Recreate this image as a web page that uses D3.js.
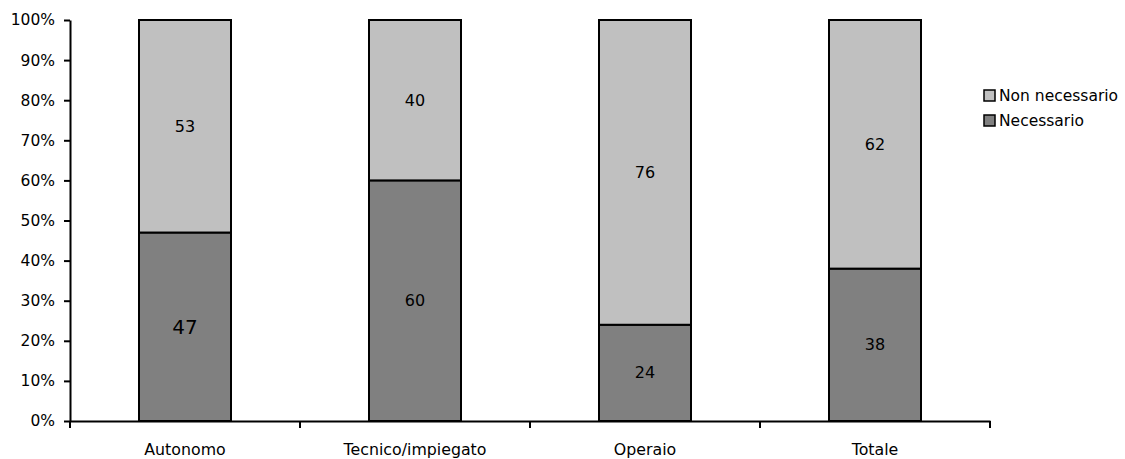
<!DOCTYPE html>
<html><head><meta charset="utf-8">
<script src="https://cdn.jsdelivr.net/npm/d3@7"></script>
<style>body{margin:0;background:#fff;} text{font-family:"DejaVu Sans",sans-serif;fill:#000;}</style>
</head><body>
<svg id="c" width="1125" height="459"></svg>
<script>
const categories = ["Autonomo","Tecnico/impiegato","Operaio","Totale"];
const necessario = [47,60,24,38];
const nonNecessario = [53,40,76,62];
const seriesNames = ["Non necessario","Necessario"];
const yTicks = [0,10,20,30,40,50,60,70,80,90,100];

const svg = d3.select("#c");
const x = d3.scaleBand().domain(categories).range([70,990]).paddingInner(0).paddingOuter(0);
const y = d3.scaleLinear().domain([0,100]).range([421,20]);
const bw = x.bandwidth()*0.4;

const data = categories.map((c,i)=>({c, nec:necessario[i], non:nonNecessario[i]}));
const g = svg.append("g");
data.forEach(d=>{
  const x0 = x(d.c)+x.bandwidth()/2-bw/2;
  g.append("rect").attr("x",x0).attr("y",y(d.nec)).attr("width",bw).attr("height",y(0)-y(d.nec))
    .attr("fill","#808080").attr("stroke","#000").attr("stroke-width",2);
  g.append("rect").attr("x",x0).attr("y",y(100)).attr("width",bw).attr("height",y(d.nec)-y(100))
    .attr("fill","#c0c0c0").attr("stroke","#000").attr("stroke-width",2);
  g.append("text").attr("x",x0+bw/2).attr("y",(y(d.nec)+y(100))/2).attr("dy","0.35em")
    .attr("text-anchor","middle").style("font-size","16px").text(d.non);
  g.append("text").attr("x",x0+bw/2).attr("y",(y(0)+y(d.nec))/2).attr("dy","0.35em")
    .attr("text-anchor","middle").style("font-size",d.c==="Autonomo"?"20px":"16px").text(d.nec);
});

const ya = svg.append("g").attr("transform","translate(70,0)")
  .call(d3.axisLeft(y).tickValues(yTicks).tickFormat(v=>v+"%").tickSize(6).tickSizeOuter(0));
ya.select(".domain").attr("stroke","#000").attr("stroke-width",2);
ya.selectAll(".tick line").attr("stroke","#000").attr("stroke-width",2);
ya.selectAll(".tick text").style("font-size","15.5px").style("font-family","DejaVu Sans").attr("x",-15);

const xa = svg.append("g").attr("transform","translate(0,421)")
  .call(d3.axisBottom(x).tickSize(0).tickSizeOuter(0));
xa.select(".domain").attr("stroke","#000").attr("stroke-width",2);
xa.selectAll(".tick text").style("font-size","15.8px").style("font-family","DejaVu Sans").attr("y",23);
const bounds = categories.map(c=>x(c)).concat([x(categories[categories.length-1])+x.bandwidth()]);
xa.selectAll(".bt").data(bounds).enter().append("line").attr("class","bt")
  .attr("x1",d=>d).attr("x2",d=>d).attr("y1",0).attr("y2",7).attr("stroke","#000").attr("stroke-width",2);

const leg = svg.append("g");
const legColors = ["#c0c0c0","#808080"];
seriesNames.forEach((n,i)=>{
  leg.append("rect").attr("x",984).attr("y",90+i*25).attr("width",11).attr("height",11)
    .attr("fill",legColors[i]).attr("stroke","#000").attr("stroke-width",1.5);
  leg.append("text").attr("x",999).attr("y",96+i*25).attr("dy","0.35em").style("font-size","15.5px").text(n);
});
</script>
</body></html>
